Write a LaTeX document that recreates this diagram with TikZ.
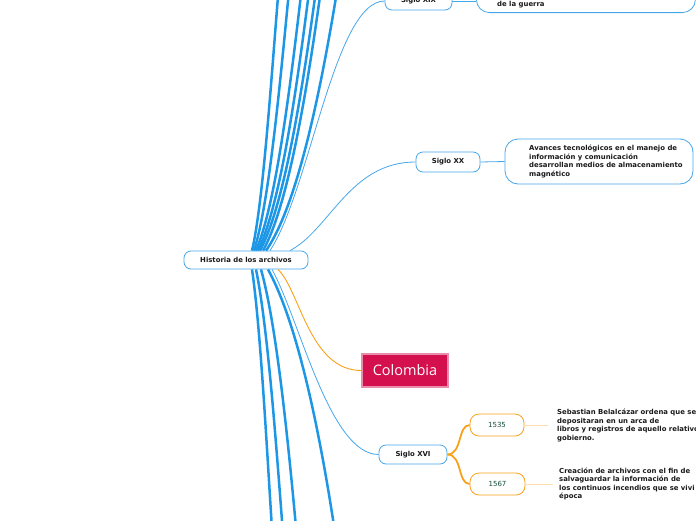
\documentclass[tikz,border=0pt]{standalone}
\usepackage{fontspec}
\setsansfont{DejaVu Sans}
\newfontfamily\tagfont{Open Sans}
\usepackage{xcolor}
\definecolor{ink}{HTML}{1A1A1A}
\definecolor{sky}{HTML}{1E96E6}
\definecolor{skyline}{HTML}{45A6EA}
\definecolor{amber}{HTML}{F9A11B}
\definecolor{amberpale}{HTML}{FDDDB0}
\definecolor{pine}{HTML}{114B36}
\definecolor{rose}{HTML}{D4104E}
\definecolor{roseedge}{HTML}{E88DAC}
\usetikzlibrary{positioning}
\tikzset{
  font=\sffamily\bfseries\fontsize{6.9}{8.4}\selectfont,
  topic/.style={draw=skyline,line width=0.8pt,rounded corners=7pt,fill=white,
                text=ink,align=center,inner sep=0pt,minimum height=18pt},
  notebox/.style={draw=skyline,line width=0.8pt,rounded corners=13pt,fill=white,inner sep=0pt},
  notetext/.style={anchor=west,align=left,text=ink,inner sep=0pt},
  yearbox/.style={draw=amber,line width=0.8pt,rounded corners=9pt,fill=white,text=pine,
                  inner sep=0pt,minimum width=54pt,minimum height=22pt,
                  font=\sffamily\fontsize{7}{8}\selectfont},
  country/.style={draw=roseedge,line width=1.2pt,fill=rose,text=white,inner sep=0pt,
                  minimum width=86pt,minimum height=33pt,font=\tagfont\fontsize{14.5}{16}\selectfont},
  twig/.style={draw=sky,line width=2.5pt},
  link/.style={draw=skyline,line width=0.8pt},
  bough/.style={draw=amber,line width=1.8pt},
  linka/.style={draw=amber,line width=0.9pt},
  stub/.style={draw=amberpale,line width=0.9pt},
}
\begin{document}
\begin{tikzpicture}[x=1pt,y=-1pt]
  \useasboundingbox (0,0) rectangle (696,520);

  % central topic
  \node[topic,minimum width=124pt] (hist) at (246,260) {Historia de los archivos};

  % branches leaving the picture
  \foreach \dx/\ex [count=\i] in {6/276,8/287,10/300,12/308,14/315,17/320,20/337} {
    \coordinate (up\i) at (\ex+5,-40);
    \draw[twig] ([xshift=\dx pt]hist.north) .. controls +({(\ex-246-\dx)/2},-51)
      and +({-0.15*(\ex-246-\dx)-5},100) .. (up\i);
  }
  \foreach \dx/\ex [count=\i] in {6/270,10/281,15/295,22/335} {
    \coordinate (dn\i) at (\ex+4,560);
    \draw[twig] ([xshift=\dx pt]hist.south) .. controls +({(\ex-246-\dx)/2},61)
      and +({-0.15*(\ex-246-\dx)-4},-100) .. (dn\i);
  }

  % Siglo XIX
  \node[topic,minimum width=67pt] (sXIX) at (418.5,1) {Siglo XIX};
  \node[notebox,minimum width=219pt,minimum height=45pt,anchor=south west] (dXIX) at (476,13) {};
  \node[notetext] (dXIXtxt) at (497,5) {de la guerra};
  \draw[link] ([xshift=24pt]hist.north) .. controls +(40,-61) and +(-50,0) .. (sXIX.west);
  \draw[link] (sXIX.east) -- (sXIX.east -| dXIX.west);

  % Siglo XX
  \node[topic,minimum width=64pt,minimum height=20pt] (sXX) at (448,162) {Siglo XX};
  \node[notebox,minimum width=188pt,minimum height=45pt] (dXX) at (599,161.5) {};
  \node[notetext] (dXXtxt) at (529,161.5) {Avances tecnológicos en el manejo de\\información y comunicación\\desarrollan medios de almacenamiento\\magnético};
  \draw[link] ([xshift=44pt]hist.north) .. controls +(40,-21) and +(-66,0) .. (sXX.west);
  \draw[link] (sXX.east) -- (dXX.west);

  % Colombia
  \node[country] (col) at (405,370.5) {Colombia};
  \draw[linka] ([xshift=32pt]hist.south) .. controls +(22,21) and +(-52,0) .. (col.west);

  % Siglo XVI
  \node[topic,minimum width=68pt,minimum height=19pt] (sXVI) at (413,454.5) {Siglo XVI};
  \draw[link] ([xshift=26pt]hist.south) .. controls +(28,51) and +(-49,0) .. (sXVI.west);

  \node[yearbox] (y1535) at (497,425) {1535};
  \node[yearbox,minimum width=55pt] (y1567) at (497.5,484) {1567};
  \draw[bough] (sXVI.east) .. controls +(15,0) and +(-12,0) .. (y1535.west);
  \draw[bough] (sXVI.east) .. controls +(15,0) and +(-12,0) .. (y1567.west);

  \coordinate (e1535) at (548,425);
  \coordinate (e1567) at (553,484);
  \draw[stub] (y1535.east) -- (e1535);
  \draw[stub] (y1567.east) -- (e1567);
  \node[notetext] (t1535) at (557,425.5) {Sebastian Belalcázar ordena que se\\depositaran en un arca de\\libros y registros de aquello relativo\\gobierno.};
  \node[notetext] (t1567) at (559,484) {Creación de archivos con el fin de\\salvaguardar la información de\\los continuos incendios que se vivi\\época};
\end{tikzpicture}
\end{document}
